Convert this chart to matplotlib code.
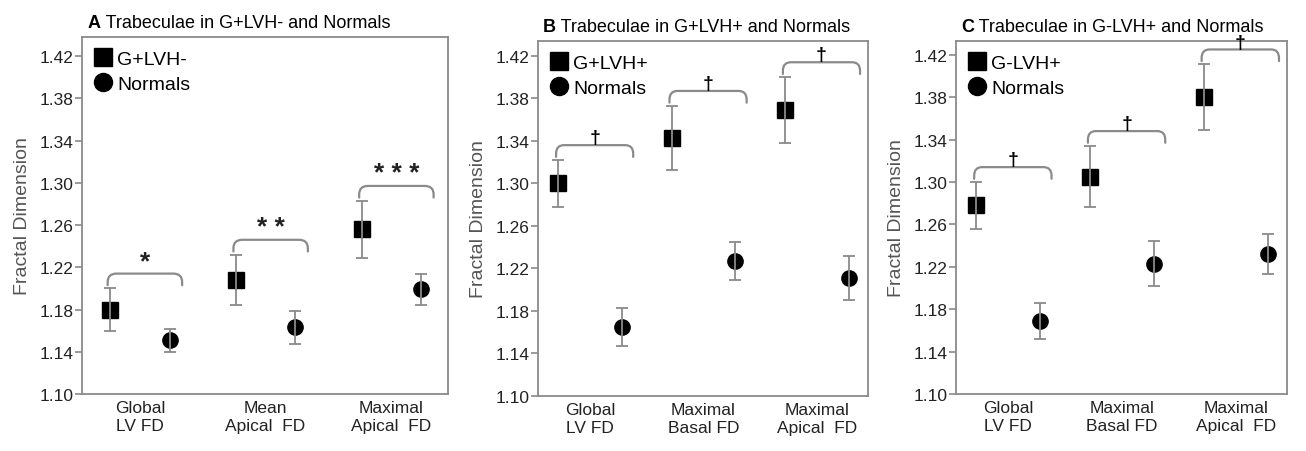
import matplotlib
matplotlib.use("Agg")
import matplotlib.pyplot as plt
from matplotlib.path import Path
from matplotlib.patches import PathPatch
from matplotlib.lines import Line2D
import numpy as np

plt.rcParams['font.family'] = ['Liberation Sans', 'DejaVu Sans']

# panel A: G+LVH- vs normals
a_cats = ['Global\nLV FD', 'Mean\nApical  FD', 'Maximal\nApical  FD']
a_group = [1.180, 1.208, 1.256]
a_group_err = [0.020, 0.024, 0.027]
a_norm = [1.151, 1.163, 1.199]
a_norm_err = [0.011, 0.016, 0.015]
a_sig = ['*', '**', '***']

# panel B: G+LVH+ vs normals
b_cats = ['Global\nLV FD', 'Maximal\nBasal FD', 'Maximal\nApical  FD']
b_group = [1.300, 1.343, 1.369]
b_group_err = [0.022, 0.030, 0.031]
b_norm = [1.165, 1.227, 1.211]
b_norm_err = [0.018, 0.018, 0.021]
b_sig = ['\u2020', '\u2020', '\u2020']

# panel C: G-LVH+ vs normals
c_cats = ['Global\nLV FD', 'Maximal\nBasal FD', 'Maximal\nApical  FD']
c_group = [1.278, 1.305, 1.380]
c_group_err = [0.022, 0.029, 0.031]
c_norm = [1.169, 1.223, 1.232]
c_norm_err = [0.017, 0.021, 0.019]
c_sig = ['\u2020', '\u2020', '\u2020']

GRAY = '#8a8a8a'


def bracket(ax, x0, x1, ytop, h=0.011, rx=0.07, ry=0.008):
    verts = [(x0, ytop - h), (x0, ytop - ry), (x0, ytop), (x0 + rx, ytop),
             (x1 - rx, ytop), (x1, ytop), (x1, ytop - ry), (x1, ytop - h)]
    codes = [Path.MOVETO, Path.LINETO, Path.CURVE3, Path.CURVE3,
             Path.LINETO, Path.CURVE3, Path.CURVE3, Path.LINETO]
    ax.add_patch(PathPatch(Path(verts, codes), fill=False, edgecolor=GRAY,
                           linewidth=1.6, capstyle='round'))


def draw_panel(ax, letter, title, group_name, cats, g, ge, n, ne, sig,
               off, ylim_top, dagger):
    x = np.arange(len(cats))
    xs = x - off
    xc = x + off
    ax.plot(xs, g, 's', color='black', markersize=11, zorder=3)
    ax.plot(xc, n, 'o', color='black', markersize=11, zorder=3)
    ax.errorbar(xs, g, yerr=ge, fmt='none', ecolor=GRAY, elinewidth=1.3,
                capsize=4, capthick=1.3, zorder=4)
    ax.errorbar(xc, n, yerr=ne, fmt='none', ecolor=GRAY, elinewidth=1.3,
                capsize=4, capthick=1.3, zorder=4)

    for i in range(len(cats)):
        ytop = g[i] + ge[i] + 0.014
        x0 = xs[i] - 0.02
        x1 = xc[i] + 0.1
        bracket(ax, x0, x1, ytop)
        if dagger:
            ax.text((x0 + x1) / 2, ytop - 0.001, sig[i], ha='center',
                    va='bottom', fontsize=14, fontweight='bold', color='black')
        else:
            ax.text((x0 + x1) / 2, ytop + 0.0005, ' '.join(sig[i]),
                    ha='center', va='bottom', fontsize=19, fontweight='bold',
                    color='#222222')

    ax.set_xlim(-0.46, 2.45)
    ax.set_ylim(1.10, ylim_top)
    ax.set_yticks(np.arange(1.10, 1.4201, 0.04))
    ax.set_yticklabels(['%.2f' % v for v in np.arange(1.10, 1.4201, 0.04)])
    ax.set_xticks(x)
    ax.set_xticklabels(cats, fontsize=12.5, linespacing=1.25)
    ax.tick_params(axis='x', length=0, pad=4, colors='#222222')
    ax.tick_params(axis='y', length=5, width=1.2, color=GRAY, labelsize=12.5,
                   labelcolor='#222222', pad=1)
    for s in ax.spines.values():
        s.set_color(GRAY)
        s.set_linewidth(1.3)
    ax.set_ylabel('Fractal Dimension', fontsize=14, color='#555555', labelpad=6)

    handles = [Line2D([], [], marker='s', color='black', linestyle='none', markersize=13),
               Line2D([], [], marker='o', color='black', linestyle='none', markersize=13)]
    ax.legend(handles, [group_name, 'Normals'], loc='upper left', frameon=False,
              fontsize=14, handlelength=0.8, handletextpad=0.3, labelspacing=0.35,
              borderaxespad=0.3, borderpad=0.4)

    t = ax.text(0.015, 1.018, letter, transform=ax.transAxes, fontsize=13,
                fontweight='bold', ha='left', va='bottom')
    ax.annotate(' ' + title, xy=(1, 0), xycoords=t, ha='left', va='bottom',
                fontsize=13)


fig = plt.figure(figsize=(13.06, 4.52), dpi=100)
ax_a = fig.add_axes([0.0628, 0.1261, 0.2802, 0.7898])
ax_b = fig.add_axes([0.4119, 0.1217, 0.2527, 0.7854])
ax_c = fig.add_axes([0.7320, 0.1261, 0.2534, 0.7810])

draw_panel(ax_a, 'A', 'Trabeculae in G+LVH- and Normals', 'G+LVH-', a_cats,
           a_group, a_group_err, a_norm, a_norm_err, a_sig, 0.236, 1.438, False)
draw_panel(ax_b, 'B', 'Trabeculae in G+LVH+ and Normals', 'G+LVH+', b_cats,
           b_group, b_group_err, b_norm, b_norm_err, b_sig, 0.28, 1.434, True)
draw_panel(ax_c, 'C', 'Trabeculae in G-LVH+ and Normals', 'G-LVH+', c_cats,
           c_group, c_group_err, c_norm, c_norm_err, c_sig, 0.28, 1.433, True)

fig.savefig('out.png', dpi=100)
